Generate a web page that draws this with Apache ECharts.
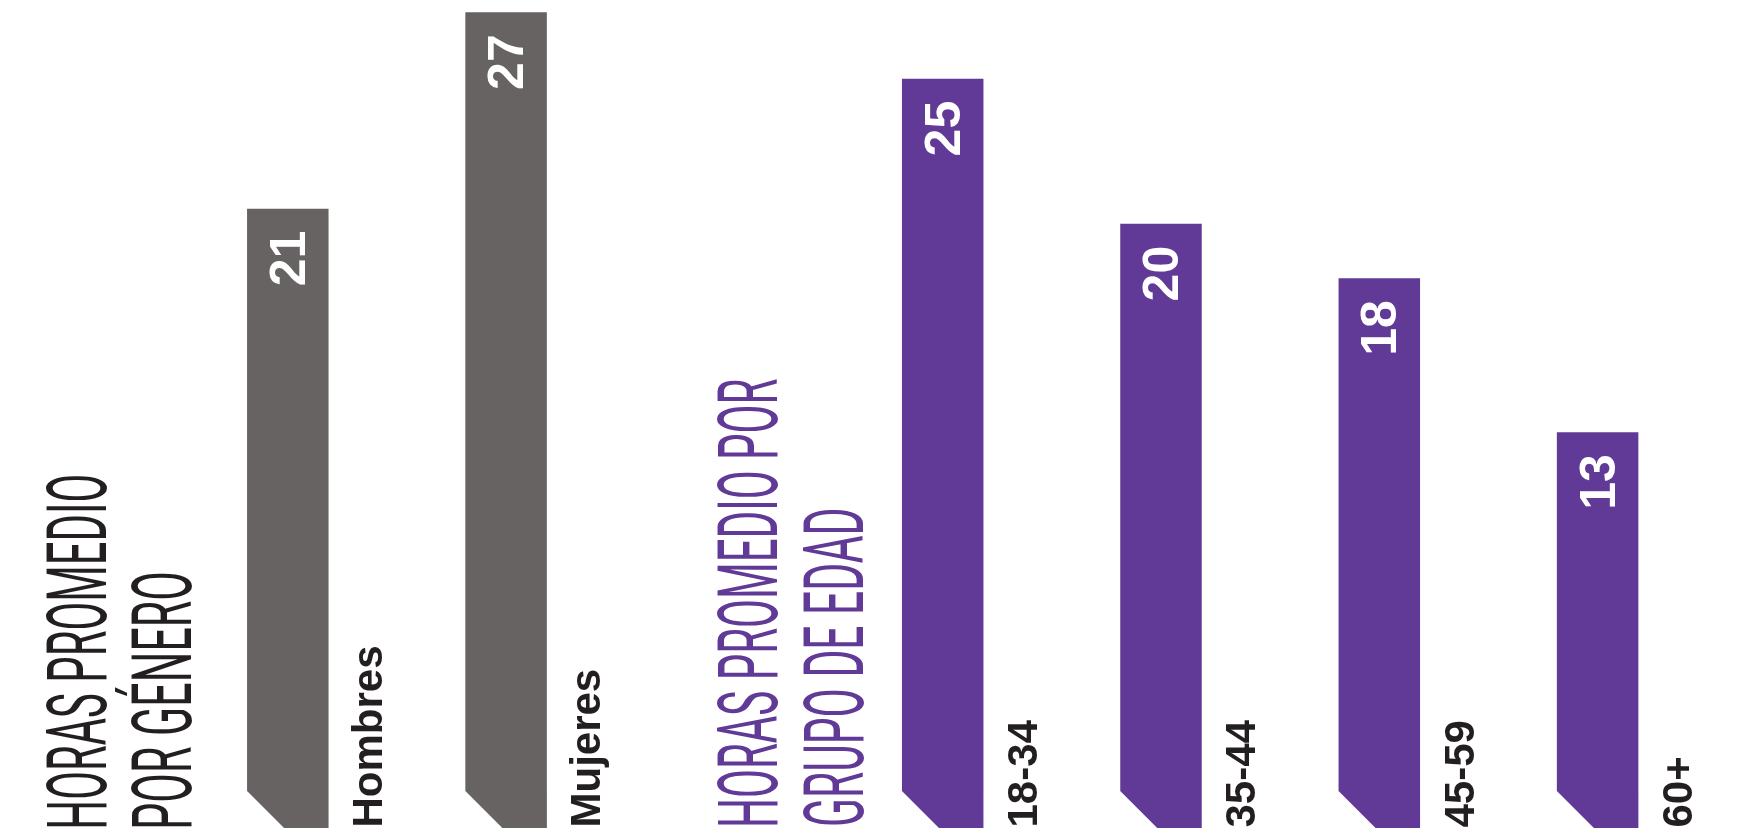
<!DOCTYPE html>
<html><head><meta charset="utf-8">
<script src="https://cdn.jsdelivr.net/npm/echarts@6/dist/echarts.min.js"></script>
<style>html,body{margin:0;padding:0;background:#fff}#c{width:1742px;height:830px}</style>
</head><body><div id="c"></div><script>
// ---- data ----
const genderTitle = ['HORAS PROMEDIO', 'POR GÉNERO'];
const genderCategories = ['Hombres', 'Mujeres'];
const genderHours = [20.5, 27.0];
const ageTitle = ['HORAS PROMEDIO POR', 'GRUPO DE EDAD'];
const ageCategories = ['18-34', '35-44', '45-59', '60+'];
const ageHours = [24.8, 20.0, 18.2, 13.1];

// ---- styles ----
const GRAY = '#666362', PURPLE = '#613996', INK = '#231f20';
const slots = ['__genero', ...genderCategories, '__edad', ...ageCategories];

const ctx = document.createElement('canvas').getContext('2d');
function midCenter(font, sample) {
  ctx.font = font; ctx.textBaseline = 'middle';
  const m = ctx.measureText(sample);
  return (m.actualBoundingBoxDescent - m.actualBoundingBoxAscent) / 2;
}
const VAL_FONT = 'bold 50px "Liberation Sans"';
const CAT_FONT = 'bold 42px "Liberation Sans"';
const valCenter = midCenter(VAL_FONT, '0');
const catCenter = midCenter(CAT_FONT, 'H');

function renderBar(params, api) {
  const x = api.value(0), v = api.value(1);
  const top = api.coord([x, v]), base = api.coord([x, 0]);
  const w = 81.5, c = 37;
  const l = top[0] - w / 2, r = top[0] + w / 2;
  return {
    type: 'group', children: [
      { type: 'polygon', shape: { points: [[l, top[1]], [r, top[1]], [r, base[1]], [l + c, base[1]], [l, base[1] - c]] },
        style: { fill: api.visual('color') } },
      { type: 'text', x: top[0] - 1 - valCenter, y: top[1] + 22, rotation: Math.PI / 2,
        style: { text: String(Math.round(v)), fill: '#fff', font: VAL_FONT, align: 'right', verticalAlign: 'middle' } },
      { type: 'text', x: r + 23 + 16 - catCenter, y: base[1] - 0.5, rotation: Math.PI / 2,
        style: { text: slots[x], fill: INK, font: CAT_FONT, align: 'left', verticalAlign: 'middle' } }
    ]
  };
}

function titleText(text, capLeft, glyphStartY, glyphLen, color) {
  const fam = 'Roboto', wt = '400';
  ctx.textBaseline = 'alphabetic';
  ctx.font = `${wt} 100px ${fam}`;
  const cap100 = ctx.measureText('H').actualBoundingBoxAscent;
  const size = 100 * 60 / cap100;
  const font = `${wt} ${size}px ${fam}`;
  ctx.font = font; ctx.textBaseline = 'middle';
  const m = ctx.measureText(text);
  const h = ctx.measureText('H');
  const s = glyphLen / (m.actualBoundingBoxLeft + m.actualBoundingBoxRight);
  const center = (h.actualBoundingBoxDescent - h.actualBoundingBoxAscent) / 2;
  return { type: 'text', x: capLeft + 30 - center, y: glyphStartY - m.actualBoundingBoxLeft * s,
    rotation: Math.PI / 2, scaleX: s, silent: true,
    style: { text, font, fill: color, align: 'left', verticalAlign: 'middle' } };
}

const chart = echarts.init(document.getElementById('c'), null, { renderer: 'canvas' });
chart.setOption({
  animation: false,
  backgroundColor: '#ffffff',
  grid: { left: 69.5, right: 144.4, top: 12.3, bottom: 2, containLabel: false },
  xAxis: { type: 'category', data: slots, boundaryGap: false, show: false },
  yAxis: { type: 'value', min: 0, max: 27, show: false },
  series: [
    { type: 'custom', name: 'Género', clip: false, itemStyle: { color: GRAY }, renderItem: renderBar,
      data: genderCategories.map((cname, i) => [slots.indexOf(cname), genderHours[i]]) },
    { type: 'custom', name: 'Edad', clip: false, itemStyle: { color: PURPLE }, renderItem: renderBar,
      data: ageCategories.map((cname, i) => [slots.indexOf(cname), ageHours[i]]) }
  ],
  graphic: { elements: [
    titleText(genderTitle[0], 46.7, 826.7, 350.7, INK),
    titleText(genderTitle[1], 131.7, 826.7, 253.4, INK),
    titleText(ageTitle[0], 718.3, 825, 445.7, PURPLE),
    titleText(ageTitle[1], 804, 825, 315, PURPLE)
  ] }
});
</script></body></html>
